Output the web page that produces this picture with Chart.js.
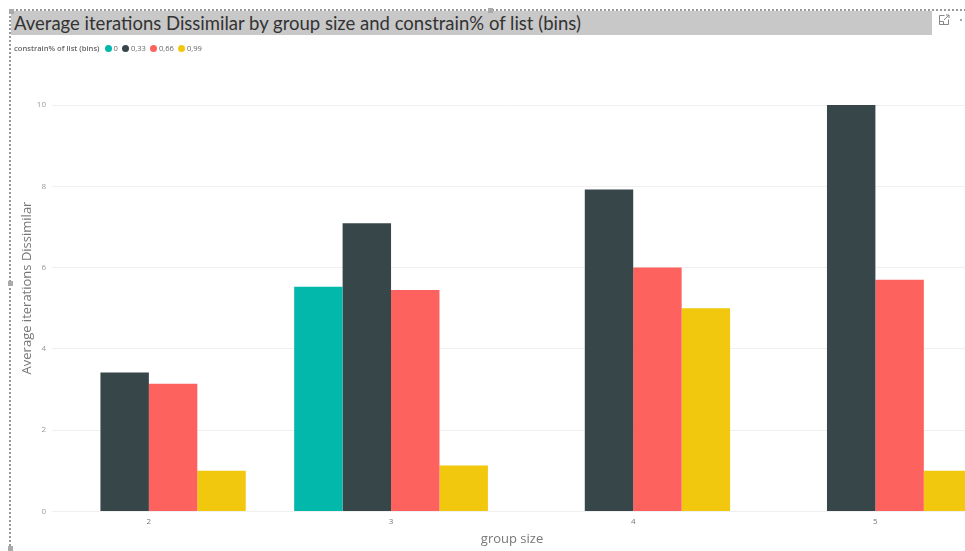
<!DOCTYPE html>
<html>
<head>
<meta charset="utf-8">
<script src="https://cdn.jsdelivr.net/npm/chart.js@4"></script>
<style>
  html, body { margin: 0; padding: 0; background: #fff; overflow: hidden; }
  #page { position: relative; width: 965px; height: 551px; font-family: "Open Sans", sans-serif; overflow: hidden; }
  #chart { position: absolute; left: 0; top: 0; }
  #frame { position: absolute; left: 9px; top: 9px; width: 970px; height: 538px; border-left: 2px dotted #999; border-top: 2px dotted #999; }
  #title { position: absolute; left: 11px; top: 11px; width: 921px; height: 24px; background: #c8c8c8; color: #333;
           font-family: Lato, sans-serif; font-size: 18.5px; line-height: 25px; white-space: nowrap; text-indent: 3px; }
  #legend { position: absolute; left: 14px; top: 42px; height: 12px; display: flex; align-items: center;
            font-size: 7.6px; color: #666; white-space: nowrap; }
  #legend b { font-weight: 600; margin-right: 3px; }
  #legend i { width: 7px; height: 7px; border-radius: 50%; margin: 0 2px 0 2px; }
  #legend span { margin-right: 2px; }
  .grip { position: absolute; width: 5px; height: 5px; background: #aaa; }
  #focus { position: absolute; left: 938px; top: 14px; }
  #dot { position: absolute; left: 960px; top: 19px; width: 2px; height: 2px; background: #888; border-radius: 50%; }
</style>
</head>
<body>
<div id="page">
  <canvas id="chart" width="965" height="551"></canvas>
  <div id="frame"></div>
  <div id="title">Average iterations Dissimilar by group size and constrain% of list (bins)</div>
  <div id="legend"></div>
  <div class="grip" style="left:9px;top:9px"></div>
  <div class="grip" style="left:488px;top:8px"></div>
  <div class="grip" style="left:8px;top:281px"></div>
  <div class="grip" style="left:8px;top:546px"></div>
  <svg id="focus" width="12" height="12" fill="none" stroke="#888" stroke-width="1">
    <path d="M6.5 1.5H1.5V10.5H10.5V5.5M1.5 7.5H5.5V10.5M6 6L11 1M8 1H11V4"/>
  </svg>
  <div id="dot"></div>
</div>
<script>
const groupSizes = [2, 3, 4, 5];
const bins = ['0', '0,33', '0,66', '0,99'];
const binColors = ['#01b8aa', '#374649', '#fd625e', '#f2c80f'];

const bin0 = [null, 5.53, null, null];
const bin33 = [3.42, 7.09, 7.92, 10];
const bin66 = [3.14, 5.45, 6, 5.7];
const bin99 = [1, 1.13, 5, 1];
const yTicks = [0, 2, 4, 6, 8, 10];

const binValues = [bin0, bin33, bin66, bin99];

// legend row sits above the chart, next to the field name
const legend = document.getElementById('legend');
legend.innerHTML = '<b>constrain% of list (bins)</b>' + bins.map((b, i) =>
    `<i style="background:${binColors[i]}"></i><span>${b}</span>`).join('');

const datasets = bins.map((b, i) => ({
    label: b,
    data: groupSizes.map((g, j) => ({ x: g, y: binValues[i][j] })),
    backgroundColor: binColors[i],
    categoryPercentage: 0.8,
    barPercentage: 1
}));

// axis names are not centred on the plot, so they are placed by hand
const axisNames = {
    id: 'axisNames',
    afterDraw(chart) {
        const ctx = chart.ctx;
        ctx.save();
        ctx.font = '13px "Open Sans"';
        ctx.fillStyle = '#777';
        ctx.textAlign = 'center';
        ctx.textBaseline = 'middle';
        ctx.fillText('group size', 512, 539);
        ctx.translate(27, 288);
        ctx.rotate(-Math.PI / 2);
        ctx.fillText('Average iterations Dissimilar', 0, 0);
        ctx.restore();
    }
};

new Chart(document.getElementById('chart').getContext('2d'), {
    type: 'bar',
    data: { datasets: datasets },
    plugins: [axisNames],
    options: {
        responsive: false,
        animation: false,
        layout: { padding: { top: 105, left: 16, right: 0, bottom: 0 } },
        plugins: { legend: { display: false }, tooltip: { enabled: false } },
        scales: {
            x: {
                type: 'linear',
                offset: false,
                // the last group runs off the right edge of the report page
                min: 1.6,
                max: 5.37,
                grid: { display: false, drawTicks: false },
                border: { display: false },
                afterBuildTicks: axis => { axis.ticks = groupSizes.map(g => ({ value: g })); },
                afterFit: axis => { axis.height = 39.5; },
                ticks: { color: '#777', font: { family: 'Open Sans', size: 8 }, padding: 5, maxRotation: 0 }
            },
            y: {
                min: 0,
                max: 10,
                grid: { color: '#f0f0f0', drawTicks: false },
                border: { display: false },
                afterBuildTicks: axis => { axis.ticks = yTicks.map(v => ({ value: v })); },
                afterFit: axis => { axis.width = 36; },
                ticks: { color: '#999', font: { family: 'Open Sans', size: 8 }, padding: 6 }
            }
        }
    }
});
</script>
</body>
</html>
